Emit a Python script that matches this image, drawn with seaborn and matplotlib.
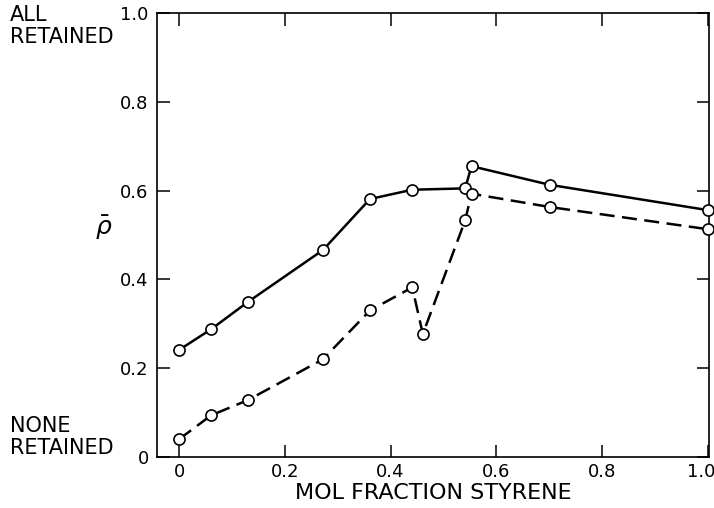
import matplotlib
matplotlib.use("Agg")
import matplotlib.pyplot as plt
import matplotlib.transforms as mtransforms
import seaborn as sns
import pandas as pd

# ---- data ----
x_all = [0.0, 0.061, 0.130, 0.272, 0.361, 0.441, 0.541, 0.553, 0.701, 1.0]
rho_all = [0.241, 0.288, 0.349, 0.466, 0.581, 0.602, 0.605, 0.655, 0.613, 0.556]

x_dash = [0.0, 0.061, 0.130, 0.272, 0.361, 0.441, 0.461, 0.541, 0.553, 0.701, 1.0]
rho_dash = [0.040, 0.094, 0.128, 0.220, 0.330, 0.382, 0.277, 0.533, 0.593, 0.563, 0.513]

xticks = [0, 0.2, 0.4, 0.6, 0.8, 1.0]
xticklabels = ["0", "0.2", "0.4", "0.6", "0.8", "1.0"]
yticks = [0, 0.2, 0.4, 0.6, 0.8, 1.0]
yticklabels = ["0", "0.2", "0.4", "0.6", "0.8", "1.0"]

sns.set_theme(style="ticks")
plt.rcParams["font.family"] = ["DejaVu Sans"]
plt.rcParams["text.color"] = "black"

fig = plt.figure(figsize=(7.14, 5.08), dpi=100)
ax = fig.add_axes([157 / 714, 1 - 457 / 508, 552 / 714, 444 / 508])

df1 = pd.DataFrame({"x": x_all, "rho": rho_all})
df2 = pd.DataFrame({"x": x_dash, "rho": rho_dash})

common = dict(color="black", marker="o", markersize=8, markerfacecolor="white",
              markeredgecolor="black", markeredgewidth=1.2, linewidth=1.8,
              sort=False, clip_on=False, zorder=3)
sns.lineplot(data=df1, x="x", y="rho", ax=ax, linestyle="-", **common)
sns.lineplot(data=df2, x="x", y="rho", ax=ax, linestyle=(0, (6, 3)), **common)

ax.set_xlim(-0.0416, 1.002)
ax.set_ylim(0, 1.0)
ax.set_xticks(xticks)
ax.set_xticklabels(xticklabels)
ax.set_yticks(yticks)
ax.set_yticklabels(yticklabels)
ax.tick_params(axis="both", direction="in", length=9, width=1.1, color="black",
               labelsize=13, labelcolor="black", top=True, right=True, pad=6)
ax.tick_params(axis="x", pad=4)
for s in ax.spines.values():
    s.set_visible(True)
    s.set_linewidth(1.2)
    s.set_color("black")

# nudge the last x tick label left so it stays inside the figure
last = ax.get_xticklabels()[-1]
last.set_transform(last.get_transform() + mtransforms.ScaledTranslation(-7 / 100, 0, fig.dpi_scale_trans))

ax.set_xlabel("MOL FRACTION STYRENE", fontsize=16, color="black", labelpad=2)
ax.set_ylabel("")

fig.text(104 / 714, 1 - 228 / 508, r"$\bar{\rho}$", fontsize=18, ha="center", va="center",
         color="black")
fig.text(10 / 714, 1 - 5 / 508, "ALL\nRETAINED", fontsize=15, ha="left", va="top",
         linespacing=1.1, color="black")
fig.text(10 / 714, 1 - 458 / 508, "NONE\nRETAINED", fontsize=15, ha="left", va="bottom",
         linespacing=1.1, color="black")

fig.savefig("out.png", dpi=100, facecolor="white")
